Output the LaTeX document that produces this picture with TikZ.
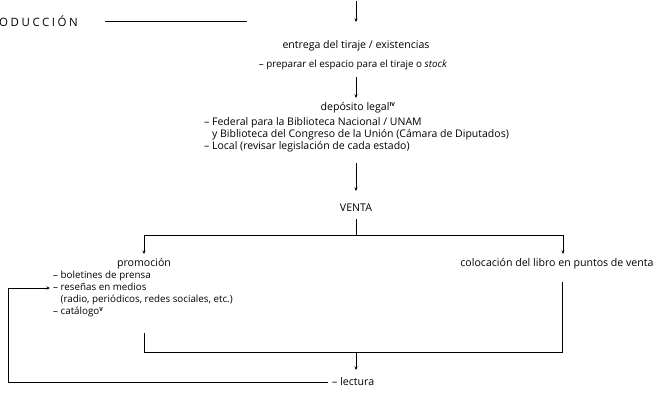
\documentclass[tikz,border=0pt]{standalone}
\usepackage{fontspec}
\setmainfont{Open Sans}
\usetikzlibrary{arrows.meta}
\tikzset{
  lbl/.style={inner sep=0pt, font=\fontsize{10.6}{12}\selectfont},
  sub/.style={inner sep=0pt, font=\fontsize{9.8}{12}\selectfont, align=left},
  ln/.style={line width=0.8pt},
  arr/.style={line width=0.8pt, -{Stealth[length=3.5pt,width=3pt]}},
}
\newcommand{\supr}[1]{\textsuperscript{\fontsize{5.5}{5.5}\selectfont\bfseries #1}}
\begin{document}
\begin{tikzpicture}[x=1pt,y=-1pt]
\useasboundingbox (0,0) rectangle (663,394);
% title
\node[lbl, anchor=west, font=\fontsize{11.5}{12}\selectfont\addfontfeatures{LetterSpace=22}] (intro) at (-1,21) {ODUCCIÓN};
\coordinate (l1) at (105,21);
\coordinate (l2) at (247,21);
\draw[ln] (l1) -- (l2);
% top arrow
\coordinate (t0) at (356,1);
\coordinate (t1) at (356,22);
\draw[arr] (t0) -- (t1);
\node[lbl] (entrega) at (356,46) {entrega del tiraje / existencias};
\node[sub] (prep) at (353,65) {– preparar el espacio para el tiraje o \textit{stock}};
\coordinate (a0) at (356,77);
\coordinate (a1) at (356,98);
\draw[arr] (a0) -- (a1);
\node[lbl] (dep) at (358,108) {depósito legal\supr{IV}};
\node[sub, anchor=north west, font=\fontsize{10.5}{12}\selectfont] (deplist) at (204,117) {– Federal para la Biblioteca Nacional / UNAM\\
\phantom{– }y Biblioteca del Congreso de la Unión (Cámara de Diputados)\\
– Local (revisar legislación de cada estado)};
\coordinate (b0) at (356,163);
\coordinate (b1) at (356,191);
\draw[arr] (b0) -- (b1);
\node[lbl] (venta) at (356,208) {VENTA};
\coordinate (v0) at (356,219);
\coordinate (v1) at (356,235);
\coordinate (vl) at (144,235);
\coordinate (vr) at (563,235);
\coordinate (pl) at (144,254);
\coordinate (pr) at (563,254);
\draw[ln] (v0) -- (v1);
\draw[arr] (v1) -- (vl) -- (pl);
\draw[arr] (v1) -- (vr) -- (pr);
\node[lbl] (promo) at (144,264) {promoción};
\node[lbl] (coloc) at (557,264) {colocación del libro en puntos de venta};
\node[sub, anchor=north west] (promolist) at (53,271) {– boletines de prensa\\
– reseñas en medios\\
\phantom{– }(radio, periódicos, redes sociales, etc.)\\
– catálogo\supr{V}};
% merge
\coordinate (m0) at (144,333);
\coordinate (m1) at (144,352);
\coordinate (c0) at (562,282);
\coordinate (c1) at (562,352);
\coordinate (mm) at (356,352);
\coordinate (mm1) at (356,370);
\draw[ln] (m0) -- (m1) -- (c1) -- (c0);
\draw[arr] (mm) -- (mm1);
\node[lbl, anchor=west] (lect) at (332,382) {– lectura};
% feedback
\coordinate (f0) at (328,382);
\coordinate (f1) at (8,382);
\coordinate (f2) at (8,288);
\coordinate (f3) at (50,288);
\draw[arr] (f0) -- (f1) -- (f2) -- (f3);
\end{tikzpicture}
\end{document}
